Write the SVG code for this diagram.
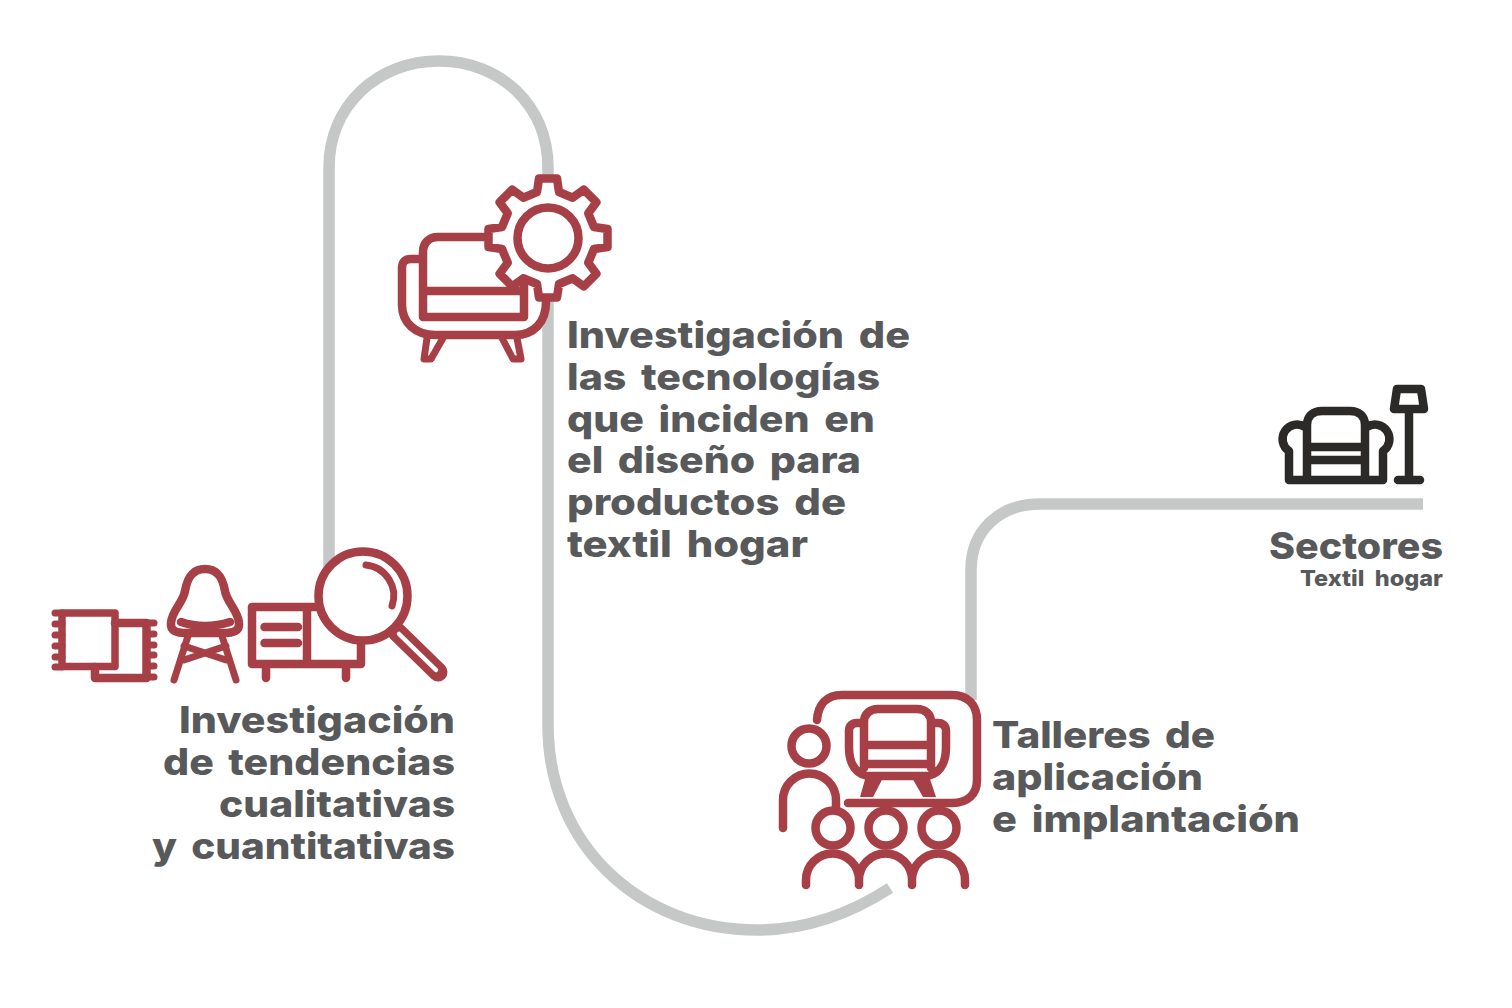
<svg xmlns="http://www.w3.org/2000/svg" width="1512" height="1008" viewBox="0 0 1512 1008">
<style>
.c{fill:none;stroke:#c6c8c7;stroke-width:11.5}
.r{fill:none;stroke:#a63f46;stroke-width:8.5;stroke-linecap:round;stroke-linejoin:round}
.k{fill:none;stroke:#2b2a29;stroke-width:8.5;stroke-linecap:round;stroke-linejoin:round}
text{font-family:"Inter","Liberation Sans",sans-serif;font-weight:800;fill:#58595b;font-size:37px;word-spacing:5px}
.e{text-anchor:end}
</style>
<rect width="1512" height="1008" fill="#fff"/>
<g id="connectors">
<path class="c" d="M329 570V168C329 105 378 61 439 61C500 61 548 105 548 168V725C548 845 640 930 757 930C805 930 850 914 890 888"/>
<path class="c" d="M971 700V570C971 530 1000 504 1040 504H1423"/>
</g>
<g id="node-tendencias">
<rect class="r" x="62" y="613" width="53" height="53.5" style="stroke-width:7.5"/>
<path class="r" d="M115 623H146.500V678H95V667"/>
<path class="r" d="M55 613H62M55 624H62M55 635H62M55 646H62M55 657H62M55 667H62M147 623H154M147 634H154M147 645H154M147 655H154M147 666H154M147 677H154" style="stroke-width:7"/>
<path class="r" d="M205 569C191 569 187 580 185 591C183 603 172 610 171 623C170 631 177 633 186 633H224C233 633 240 631 239 623C238 610 227 603 225 591C223 580 219 569 205 569Z"/>
<path class="r" d="M181 622C196 627 214 627 230 622"/>
<path class="r" d="M188 636L174 680M222 636L236 680M184 646L226 660M226 646L184 660" style="stroke-width:7"/>
<path class="r" d="M252 607H361V664H252ZM307 607V664M264.500 627H298M264.500 643H298M266 664V678M346 664V678"/>
<path class="r" d="M397 632L438 672" style="stroke-width:19"/>
<path d="M399 634L436 670" stroke="#fff" stroke-width="4.500" stroke-linecap="round" fill="none"/>
<circle class="r" cx="363" cy="596" r="44.500" style="fill:#fff"/>
<path class="r" d="M366 565A31 31 0 0 1 392 606" style="stroke-width:7"/>
<text class="e" x="455" y="733" textLength="276" lengthAdjust="spacingAndGlyphs">Investigación</text>
<text class="e" x="455" y="775" textLength="292" lengthAdjust="spacingAndGlyphs">de tendencias</text>
<text class="e" x="455" y="817" textLength="236" lengthAdjust="spacingAndGlyphs">cualitativas</text>
<text class="e" x="455" y="859" textLength="303" lengthAdjust="spacingAndGlyphs">y cuantitativas</text>
</g>
<g id="node-tecnologias">
<path class="r" d="M485 237H438C429 237 423 243 423 252V317H524V282M423 291H520M420 259H411C405 259 402 262 402 268V305C402 323 416 335 435 335H515C534 335 546 322 546 302"/>
<path class="r" d="M427 338L424 359H431L443 338M502 338L513 359H521L517 338" style="stroke-width:7"/>
<path class="r" style="fill:#fff" d="M537 192L539 178.500H557L559 192L572.750 197.700L583.700 189.600L596.400 202.300L588.300 213.300L594 227L607.500 229V247L594 249L588.300 262.700L596.400 273.700L583.700 286.400L572.750 278.300L559 284L557 297.500H539L537 284L523.250 278.300L512.300 286.400L499.600 273.700L507.700 262.700L502 249L488.500 247V229L502 227L507.700 213.300L499.600 202.300L512.300 189.600L523.250 197.700Z"/>
<circle class="r" cx="548" cy="238" r="30.500"/>
<text x="567" y="348" textLength="343" lengthAdjust="spacingAndGlyphs">Investigación de</text>
<text x="567" y="390" textLength="313" lengthAdjust="spacingAndGlyphs">las tecnologías</text>
<text x="567" y="432" textLength="308" lengthAdjust="spacingAndGlyphs">que inciden en</text>
<text x="567" y="473" textLength="294" lengthAdjust="spacingAndGlyphs">el diseño para</text>
<text x="567" y="515" textLength="279" lengthAdjust="spacingAndGlyphs">productos de</text>
<text x="567" y="557" textLength="241" lengthAdjust="spacingAndGlyphs">textil hogar</text>
</g>
<g id="node-talleres">
<path class="r" style="fill:#fff" d="M817 720C818 705 826 695 842 695H952C968 695 977 705 977 720V780C977 794 968 803 952 803H848"/>
<path class="r" d="M864 768V722C864 714 870 709 878 709H917C925 709 931 714 931 722V768M864 745H931M864 764H931M862 723H857C852 723 849 726 849 731V747C849 764 856 776 872 776H923C939 776 946 764 946 747V731C946 726 943 723 938 723H933"/>
<path d="M866 776H884L873 797H860ZM911 776H929L936 797H923Z" fill="#a63f46"/>
<circle class="r" cx="809" cy="746" r="17.500"/>
<path class="r" d="M783 828V800A26.500 26.500 0 0 1 836 800V811"/>
<circle class="r" cx="833" cy="828" r="17.500"/>
<circle class="r" cx="886" cy="828" r="17.500"/>
<circle class="r" cx="939" cy="828" r="17.500"/>
<path class="r" d="M806 885V880A26.500 26.500 0 0 1 859 880V885M859 880A26.500 26.500 0 0 1 912 880V885M912 880A26.500 26.500 0 0 1 965 880V885"/>
<text x="992" y="748" textLength="223" lengthAdjust="spacingAndGlyphs">Talleres de</text>
<text x="992" y="790" textLength="211" lengthAdjust="spacingAndGlyphs">aplicación</text>
<text x="992" y="832" textLength="308" lengthAdjust="spacingAndGlyphs">e implantación</text>
</g>
<g id="node-sectores">
<path class="k" d="M1307 480V425C1307 416 1313 411 1322 411H1350C1359 411 1365 416 1365 425V480M1307 447H1365M1307 460H1365M1289 480H1383M1289 480V451A13.500 13.500 0 1 1 1305 427M1383 480V451A13.500 13.500 0 1 0 1367 427"/>
<path class="k" d="M1397 389H1421L1424 409H1394ZM1409 409V480M1398 480H1420"/>
<text class="e" x="1443" y="559" textLength="174" lengthAdjust="spacingAndGlyphs">Sectores</text>
<text class="e" x="1443" y="586" textLength="143" lengthAdjust="spacingAndGlyphs" style="font-size:22px">Textil hogar</text>
</g>
</svg>
